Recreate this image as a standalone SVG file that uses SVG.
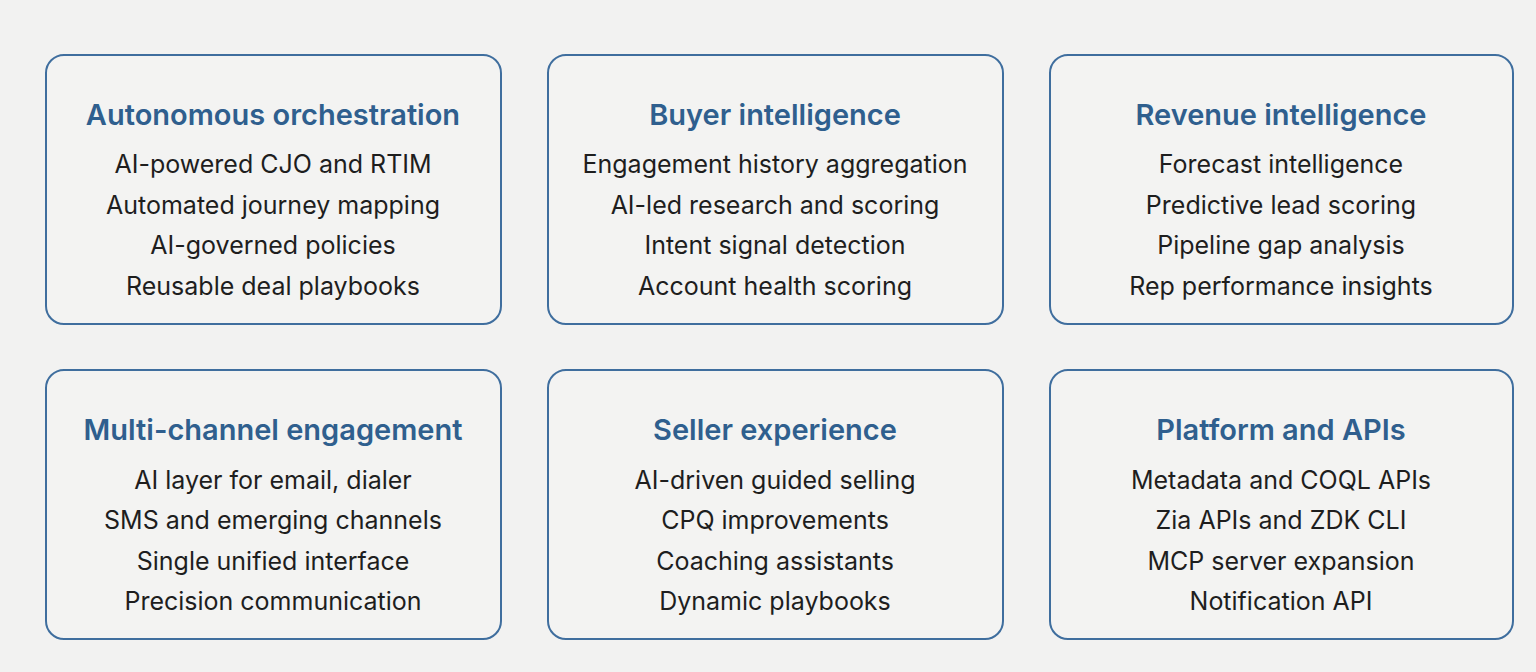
<svg xmlns="http://www.w3.org/2000/svg" width="1536" height="672" viewBox="0 0 1536 672">
<style>
.box{fill:#f3f3f2;stroke:#3f6e9e;stroke-width:2}
.t{font-family:Inter,"Liberation Sans",sans-serif;font-weight:600;font-size:29px;fill:#2f5f8e;text-anchor:middle}
.i{font-family:Inter,"Liberation Sans",sans-serif;font-size:25px;fill:#1e1e1e;text-anchor:middle}
</style>
<rect width="1536" height="672" fill="#f2f2f1"/>
<g id="n1"><rect class="box" x="46" y="55" width="455" height="269" rx="18"/>
<text class="t" x="273" y="125">Autonomous orchestration</text>
<text class="i" x="273" y="173">AI-powered CJO and RTIM</text>
<text class="i" x="273" y="214">Automated journey mapping</text>
<text class="i" x="273" y="254">AI-governed policies</text>
<text class="i" x="273" y="295">Reusable deal playbooks</text></g>
<g id="n2"><rect class="box" x="548" y="55" width="455" height="269" rx="18"/>
<text class="t" x="775" y="125">Buyer intelligence</text>
<text class="i" x="775" y="173">Engagement history aggregation</text>
<text class="i" x="775" y="214">AI-led research and scoring</text>
<text class="i" x="775" y="254">Intent signal detection</text>
<text class="i" x="775" y="295">Account health scoring</text></g>
<g id="n3"><rect class="box" x="1050" y="55" width="463" height="269" rx="18"/>
<text class="t" x="1281" y="125">Revenue intelligence</text>
<text class="i" x="1281" y="173">Forecast intelligence</text>
<text class="i" x="1281" y="214">Predictive lead scoring</text>
<text class="i" x="1281" y="254">Pipeline gap analysis</text>
<text class="i" x="1281" y="295">Rep performance insights</text></g>
<g id="n4"><rect class="box" x="46" y="370" width="455" height="269" rx="18"/>
<text class="t" x="273" y="440">Multi-channel engagement</text>
<text class="i" x="273" y="489">AI layer for email, dialer</text>
<text class="i" x="273" y="529">SMS and emerging channels</text>
<text class="i" x="273" y="570">Single unified interface</text>
<text class="i" x="273" y="610">Precision communication</text></g>
<g id="n5"><rect class="box" x="548" y="370" width="455" height="269" rx="18"/>
<text class="t" x="775" y="440">Seller experience</text>
<text class="i" x="775" y="489">AI-driven guided selling</text>
<text class="i" x="775" y="529">CPQ improvements</text>
<text class="i" x="775" y="570">Coaching assistants</text>
<text class="i" x="775" y="610">Dynamic playbooks</text></g>
<g id="n6"><rect class="box" x="1050" y="370" width="463" height="269" rx="18"/>
<text class="t" x="1281" y="440">Platform and APIs</text>
<text class="i" x="1281" y="489">Metadata and COQL APIs</text>
<text class="i" x="1281" y="529">Zia APIs and ZDK CLI</text>
<text class="i" x="1281" y="570">MCP server expansion</text>
<text class="i" x="1281" y="610">Notification API</text></g>
<g id="connectors"/>
</svg>
